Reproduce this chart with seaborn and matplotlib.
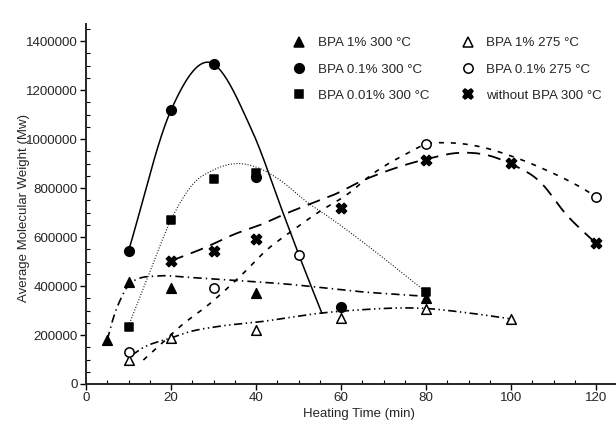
import numpy as np
import matplotlib
matplotlib.use("Agg")
import matplotlib.pyplot as plt
from matplotlib.lines import Line2D
from matplotlib.ticker import MultipleLocator, FuncFormatter
import seaborn as sns

# ── measured points (heating time in min, Mw) ────────────────────────────────
bpa1_300_t = [5, 10, 20, 40, 80]
bpa1_300_mw = [180000, 416000, 392000, 372000, 350000]

bpa01_300_t = [10, 20, 30, 40, 60]
bpa01_300_mw = [543000, 1118000, 1306000, 845000, 314000]

bpa001_300_t = [10, 20, 30, 40, 80]
bpa001_300_mw = [233000, 669000, 837000, 861000, 376000]

bpa1_275_t = [10, 20, 40, 60, 80, 100]
bpa1_275_mw = [98000, 188000, 220000, 269000, 306000, 265000]

bpa01_275_t = [10, 30, 50, 80, 120]
bpa01_275_mw = [130000, 392000, 527000, 980000, 765000]

nobpa_300_t = [20, 30, 40, 60, 80, 100, 120]
nobpa_300_mw = [502000, 543000, 592000, 718000, 914000, 902000, 576000]

# ── fitted trend curves ──────────────────────────────────────────────────────
fit01_300_t = [10, 20, 28.4, 39, 46.4, 50.2, 55.5]
fit01_300_mw = [543000, 1118000, 1314000, 1037000, 697000, 522000, 289000]

fit001_300_t = [10, 14.3, 20, 25.3, 30, 35.4, 40.9, 45.6, 51.9, 58.2, 64.5, 80]
fit001_300_mw = [237000, 425000, 670000, 819000, 874000, 900000, 880000,
                 833000, 744000, 669000, 588000, 376000]

fit1_300_t = [5, 6.4, 8.4, 10.35, 11.9, 16.6, 24.5, 33.1, 47.2, 64.5, 80]
fit1_300_mw = [180000, 268000, 356000, 411000, 427000, 441000, 435000,
               425000, 408000, 377000, 358000]

fit1_275_t = [10.8, 13.1, 19.8, 24.5, 30.7, 40.9, 55, 63.7, 79.4, 89.6, 100]
fit1_275_mw = [118000, 145000, 187000, 214000, 234000, 254000, 289000,
               302000, 309000, 291000, 266000]

fit01_275_t = [13.5, 17.4, 22.1, 29.2, 37, 42.5, 48.8, 54.3, 61.3, 67.6,
               75.5, 80.2, 84.9, 92.7, 100.5, 108.2, 116.9, 120]
fit01_275_mw = [98000, 159000, 234000, 329000, 452000, 547000, 629000,
                697000, 772000, 860000, 941000, 980000, 985000, 969000,
                928000, 874000, 798000, 765000]

fitno_300_t = [20, 27.6, 35.4, 40.9, 47.2, 52.7, 59, 64.5, 71.5, 79.8, 88,
               94.3, 99.8, 106.8, 113.1, 120]
fitno_300_mw = [503000, 554000, 615000, 649000, 697000, 735000, 778000,
                826000, 874000, 917000, 944000, 935000, 900000, 826000,
                690000, 574000]


def smooth(xk, yk, n=300):
    """Cubic Hermite curve through the knots (finite-difference slopes)."""
    xk = np.asarray(xk, float)
    yk = np.asarray(yk, float)
    m = np.gradient(yk, xk)
    xs = np.linspace(xk[0], xk[-1], n)
    i = np.clip(np.searchsorted(xk, xs) - 1, 0, len(xk) - 2)
    h = xk[i + 1] - xk[i]
    t = (xs - xk[i]) / h
    ys = ((2 * t**3 - 3 * t**2 + 1) * yk[i] + (t**3 - 2 * t**2 + t) * h * m[i]
          + (-2 * t**3 + 3 * t**2) * yk[i + 1] + (t**3 - t**2) * h * m[i + 1])
    return xs, ys


sns.set_style("ticks")
plt.rcParams["font.family"] = ["Liberation Sans", "DejaVu Sans"]
plt.rcParams["lines.scale_dashes"] = False

fig = plt.figure(figsize=(6.16, 4.22), dpi=100)
ax = fig.add_axes([86 / 616, 38 / 422, 530 / 616, 360 / 422])

# ── trend curves ─────────────────────────────────────────────────────────────
curves = [
    (fit01_300_t, fit01_300_mw, "-", 1.1),
    (fit001_300_t, fit001_300_mw, (0, (0.7, 1.3)), 0.8),
    (fit1_300_t, fit1_300_mw, (0, (6, 3, 1, 3)), 1.2),
    (fit1_275_t, fit1_275_mw, (0, (6, 2.5, 1, 2.5, 1, 2.5)), 1.2),
    (fit01_275_t, fit01_275_mw, (0, (3.6, 5)), 1.2),
    (fitno_300_t, fitno_300_mw, (0, (9.4, 5.8)), 1.3),
]
for xk, yk, ls, lw in curves:
    xs, ys = smooth(xk, yk)
    sns.lineplot(x=xs, y=ys, ax=ax, color="black", linestyle=ls, linewidth=lw,
                 sort=False, estimator=None, zorder=2)

# ── markers ──────────────────────────────────────────────────────────────────
series = [
    (bpa1_300_t, bpa1_300_mw, "^", "black", 48, "BPA 1% 300 °C"),
    (bpa01_300_t, bpa01_300_mw, "o", "black", 48, "BPA 0.1% 300 °C"),
    (bpa001_300_t, bpa001_300_mw, "s", "black", 40, "BPA 0.01% 300 °C"),
    (bpa1_275_t, bpa1_275_mw, "^", "white", 48, "BPA 1% 275 °C"),
    (bpa01_275_t, bpa01_275_mw, "o", "white", 45, "BPA 0.1% 275 °C"),
    (nobpa_300_t, nobpa_300_mw, "X", "black", 55, "without BPA 300 °C"),
]
for t, mw, mk, face, size, _ in series:
    sns.scatterplot(x=t, y=mw, ax=ax, marker=mk, s=size, color=face,
                    edgecolor="black", linewidth=1.1, zorder=3)

# ── legend: markers only, two columns ────────────────────────────────────────
handles = []
labels = []
for _, _, mk, face, size, lab in series:
    handles.append(Line2D([], [], marker=mk, linestyle="none", color="black",
                          markerfacecolor=face, markeredgecolor="black",
                          markersize=np.sqrt(size), markeredgewidth=1.1))
    labels.append(lab)
ax.legend(handles, labels, ncol=2, frameon=False, fontsize=9.6,
          loc="upper left", bbox_to_anchor=(0.39, 0.964),
          borderaxespad=0, borderpad=0, handlelength=1.0,
          handletextpad=0.9, columnspacing=2.35, labelspacing=1.05)

# ── axes ─────────────────────────────────────────────────────────────────────
ax.set_xlim(0, 124.7)
ax.set_ylim(0, 1470000)
ax.xaxis.set_major_locator(MultipleLocator(20))
ax.xaxis.set_minor_locator(MultipleLocator(5))
ax.yaxis.set_major_locator(MultipleLocator(200000))
ax.yaxis.set_minor_locator(MultipleLocator(50000))
ax.yaxis.set_major_formatter(FuncFormatter(lambda v, p: f"{int(v)}"))
ax.tick_params(which="major", direction="out", length=4, width=1,
               labelsize=9.6, pad=2, color="black")
ax.tick_params(which="minor", direction="in", length=3, width=0.8,
               color="black")
for side in ["top", "right"]:
    ax.spines[side].set_visible(False)
for side in ["left", "bottom"]:
    ax.spines[side].set_linewidth(1.4)

ax.set_xlabel("Heating Time (min)", fontsize=9.5)
ax.set_ylabel("Average Molecular Weight (Mw)", fontsize=9.5)
ax.xaxis.set_label_coords(0.515, -0.068)
ax.yaxis.set_label_coords(-0.105, 0.49)

fig.savefig("out.png", dpi=100)
